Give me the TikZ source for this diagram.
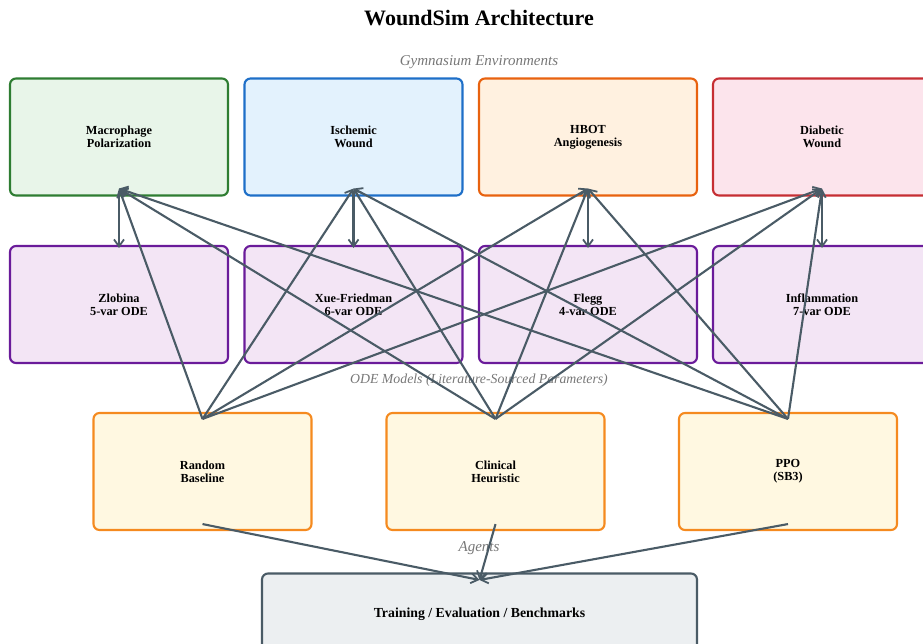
\documentclass[tikz,border=0pt]{standalone}
\usepackage{fontspec}
\setmainfont{Liberation Serif}
\usetikzlibrary{arrows.meta}
\definecolor{arrc}{HTML}{4A5B66}
\definecolor{labc}{HTML}{777777}
\definecolor{g1}{HTML}{E8F5E9}\definecolor{g2}{HTML}{2E7D32}
\definecolor{b1}{HTML}{E3F2FD}\definecolor{b2}{HTML}{1E6FC8}
\definecolor{o1}{HTML}{FFF1E0}\definecolor{o2}{HTML}{E8620F}
\definecolor{r1}{HTML}{FCE4EC}\definecolor{r2}{HTML}{C62E33}
\definecolor{p1}{HTML}{F3E5F5}\definecolor{p2}{HTML}{6A1B9A}
\definecolor{y1}{HTML}{FFF8E1}\definecolor{y2}{HTML}{F58A1F}
\definecolor{s1}{HTML}{ECEFF1}\definecolor{s2}{HTML}{4A5B66}
\tikzset{
  box/.style={draw, line width=2.1pt, rounded corners=6pt, minimum width=218pt, minimum height=117pt,
    inner sep=0pt, align=center, font=\fontsize{12.3}{13.2}\selectfont\bfseries},
  sect/.style={font=\fontsize{15}{17}\selectfont\itshape, text=labc},
  arr/.style={draw=arrc, line width=2.1pt, -{Straight Barb[length=7pt,width=10pt,line width=1.8pt]}},
}
\begin{document}
\begin{tikzpicture}[x=1pt,y=-1pt]
\useasboundingbox (0,0) rectangle (923,643);
\node[font=\fontsize{22}{26}\selectfont\bfseries] (title) at (479,18) {WoundSim Architecture};
\node[sect] (lenv) at (479,62) {Gymnasium Environments};
\node[sect, font=\fontsize{13.8}{16}\selectfont\itshape] (lode) at (479,380) {ODE Models (Literature-Sourced Parameters)};
\node[sect] (lag) at (479,548) {Agents};
% environments
\node[box, fill=g1, draw=g2] (e1) at (119,137) {Macrophage\\Polarization};
\node[box, fill=b1, draw=b2] (e2) at (353.5,137) {Ischemic\\Wound};
\node[box, fill=o1, draw=o2] (e3) at (588,137) {HBOT\\Angiogenesis};
\node[box, fill=r1, draw=r2] (e4) at (822,137) {Diabetic\\Wound};
% ODE models
\node[box, fill=p1, draw=p2] (m1) at (119,304.5) {Zlobina\\5-var ODE};
\node[box, fill=p1, draw=p2] (m2) at (353.5,304.5) {Xue-Friedman\\6-var ODE};
\node[box, fill=p1, draw=p2] (m3) at (588,304.5) {Flegg\\4-var ODE};
\node[box, fill=p1, draw=p2] (m4) at (822,304.5) {Inflammation\\7-var ODE};
% agents
\node[box, fill=y1, draw=y2] (a1) at (202.5,471.5) {Random\\Baseline};
\node[box, fill=y1, draw=y2] (a2) at (495.5,471.5) {Clinical\\Heuristic};
\node[box, fill=y1, draw=y2] (a3) at (788,471.5) {PPO\\(SB3)};
% bottom
\node[box, fill=s1, draw=s2, minimum width=435pt, minimum height=82pt, font=\fontsize{13.8}{16}\selectfont\bfseries] (t) at (479.5,614.5) {Training / Evaluation / Benchmarks};
% env -> ODE
\foreach \i in {1,2,3,4}
  \draw[arr] ([yshift=6pt]e\i.south) -- ([yshift=-3pt]m\i.north);
% agents -> envs
\foreach \a in {1,2,3}
  \foreach \e in {1,2,3,4}
    \draw[arr] ([yshift=-7pt]a\a.north) -- ([yshift=8pt]e\e.south);
% agents -> bottom
\foreach \a in {1,2,3}
  \draw[arr] ([yshift=7pt]a\a.south) -- ([yshift=-7.5pt]t.north);
\end{tikzpicture}
\end{document}
